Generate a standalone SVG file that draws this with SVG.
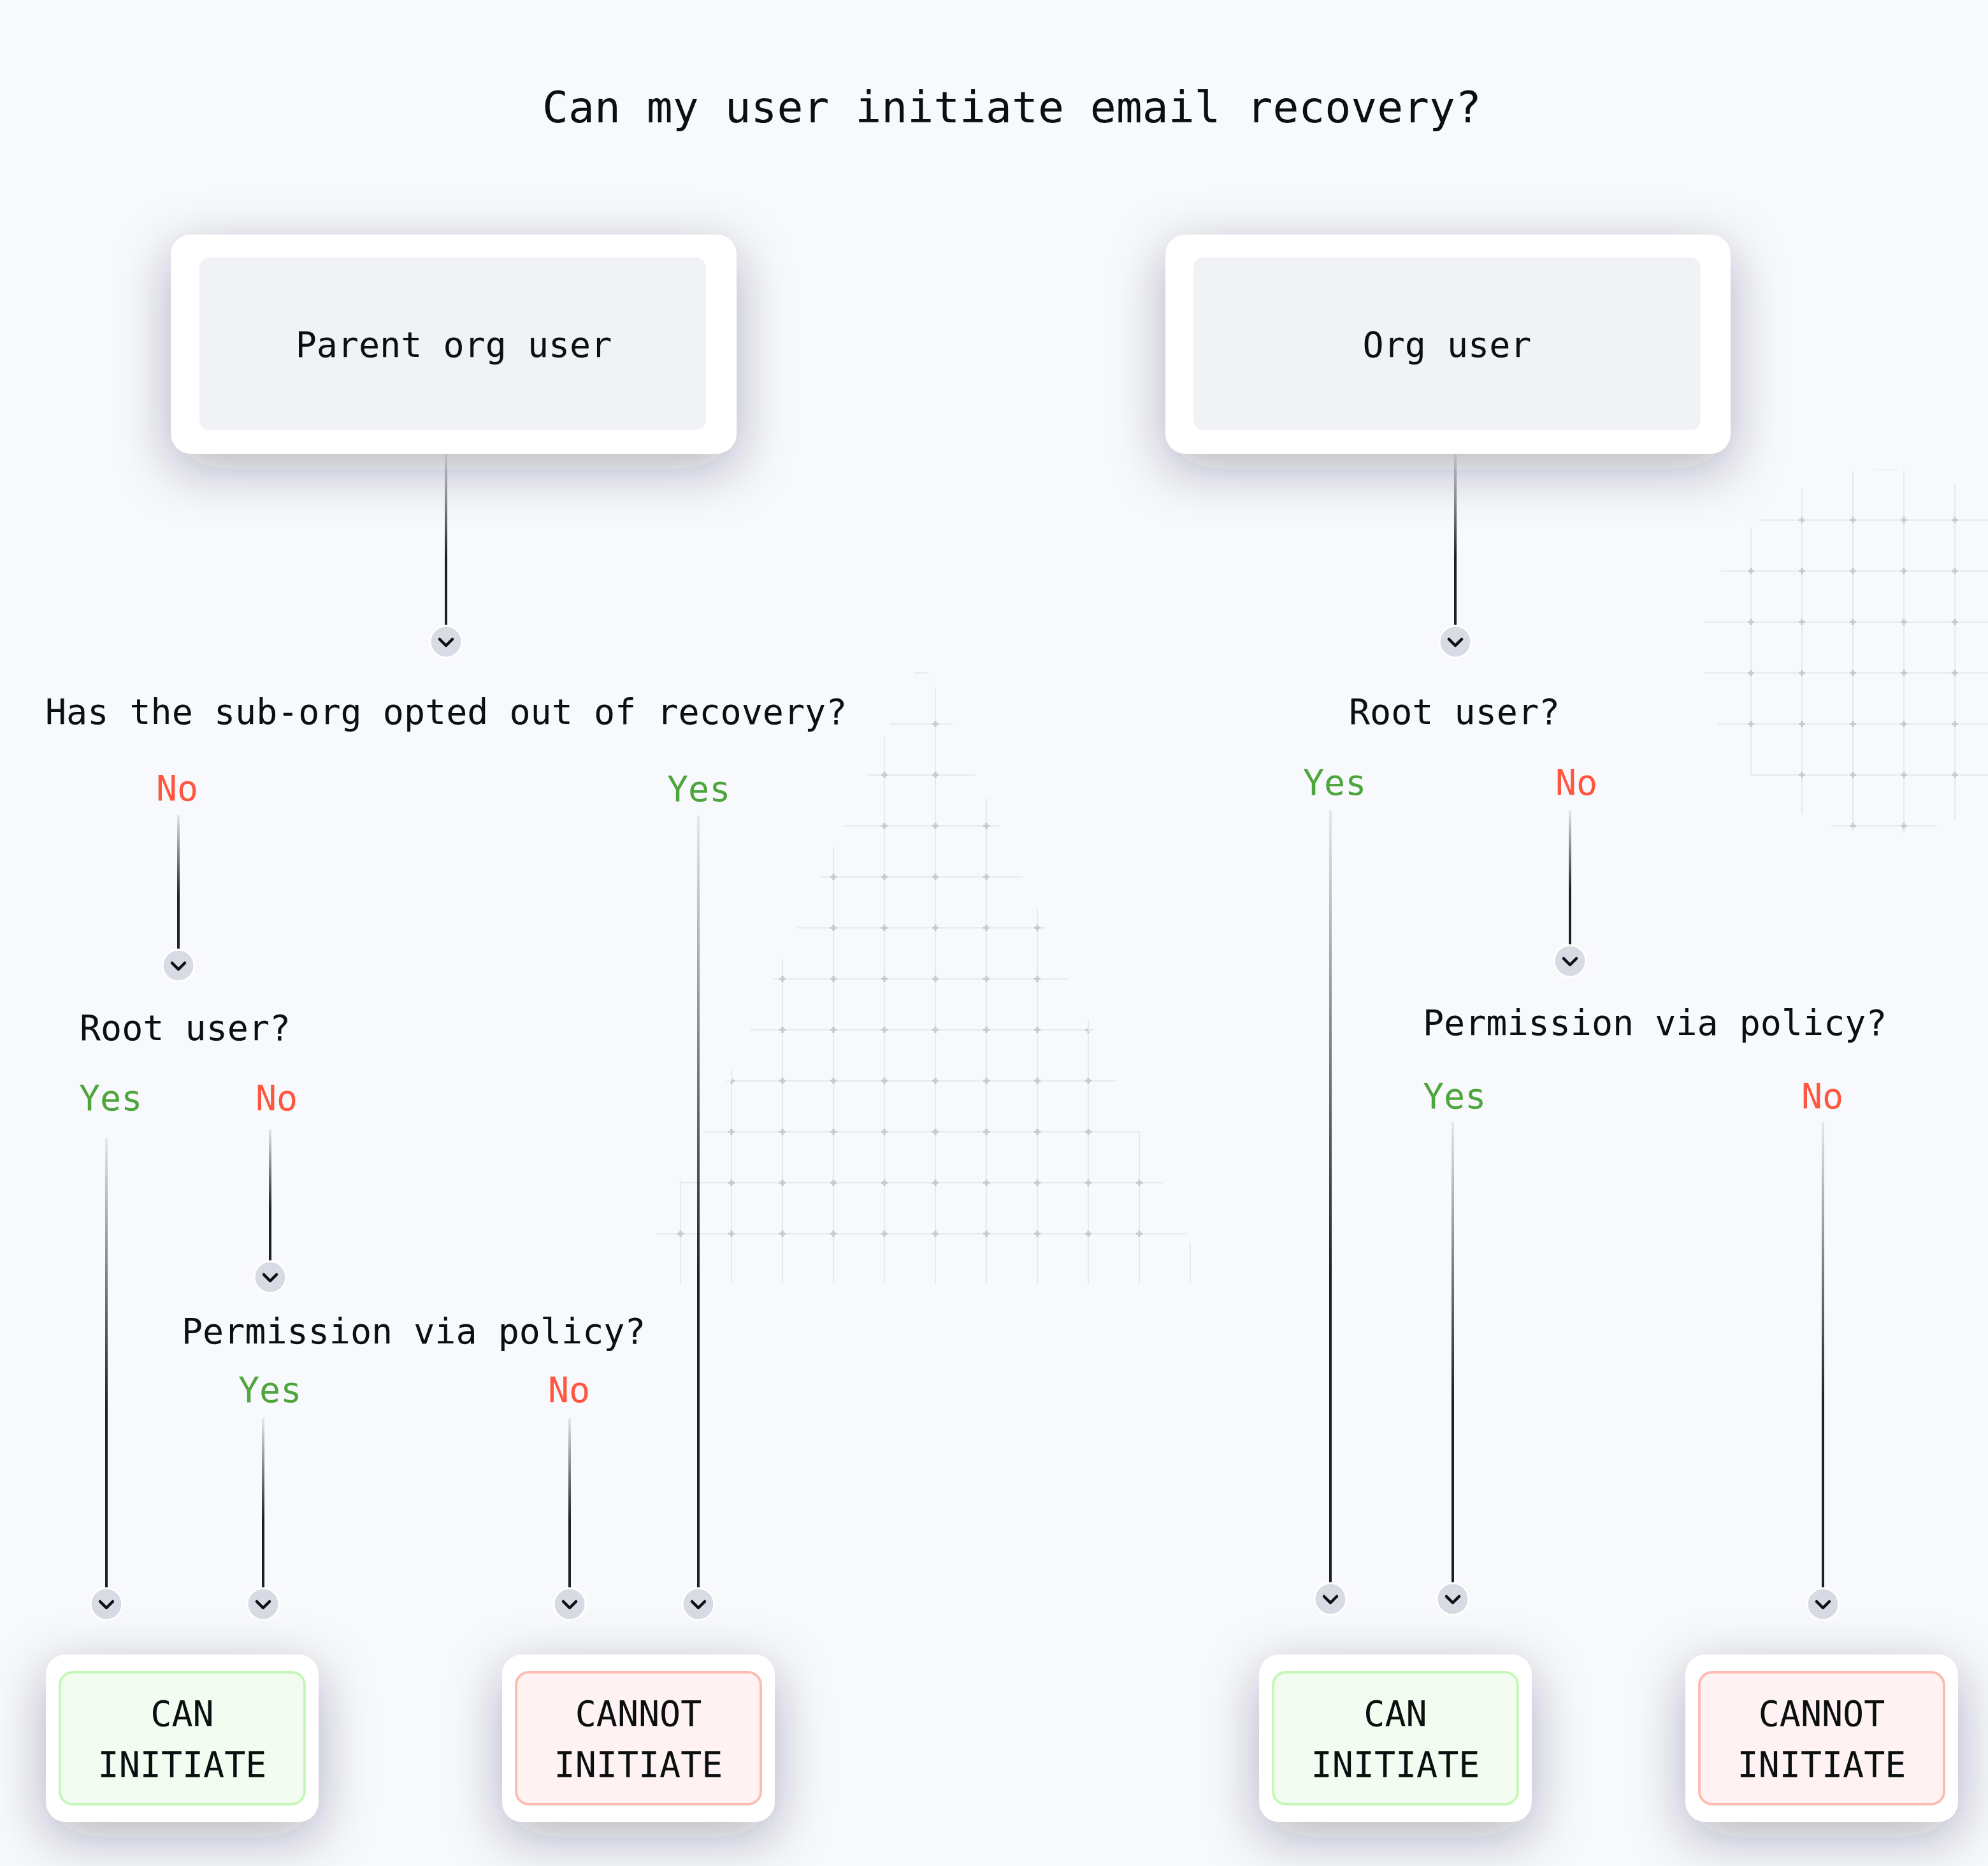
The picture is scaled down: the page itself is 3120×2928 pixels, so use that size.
<svg xmlns="http://www.w3.org/2000/svg" xmlns:xlink="http://www.w3.org/1999/xlink" width="3120" height="2928" viewBox="0 0 3120 2928">
<style>
text{font-family:"DejaVu Sans Mono","Liberation Mono",monospace;font-size:55px;fill:#0b0f10}
.title{font-size:68px}
.yes{fill:#4ea53c}
.no{fill:#ff5640}
.mid{text-anchor:middle}
.outer{fill:#ffffff}
.inner{fill:#f1f2f6}
.okin{fill:#f2fcf1;stroke:#c6f7b6;stroke-width:4}
.badin{fill:#fff2f2;stroke:#fcbcb2;stroke-width:4}
.wire{fill:url(#lg)}
</style>
<defs>
<linearGradient id="lg" x1="0" y1="0" x2="0" y2="1">
<stop offset="0" stop-color="#1d2026" stop-opacity="0.08"/>
<stop offset="0.6" stop-color="#1d2026" stop-opacity="1"/>
<stop offset="1" stop-color="#1d2026" stop-opacity="1"/>
</linearGradient>
<filter id="sh" x="-40%" y="-70%" width="180%" height="250%">
<feDropShadow dx="0" dy="24" stdDeviation="42" flood-color="#1c1f2e" flood-opacity="0.3"/>
</filter>
<pattern id="gl" patternUnits="userSpaceOnUse" x="1028" y="1096" width="80" height="80">
<path d="M0 40H80M40 0V80" stroke="#e3e5ea" stroke-width="1.6" fill="none"/>
</pattern>
<pattern id="gd" patternUnits="userSpaceOnUse" x="1028" y="1096" width="80" height="80">
<path d="M35 40H45M40 35V45" stroke="#c8cacf" stroke-width="3.5" fill="none"/>
</pattern>
<clipPath id="triL"><polygon points="1446,1030 1898,2014 994,2014"/></clipPath>
<clipPath id="triD"><polygon points="1446,1046 1884,2000 1008,2000"/></clipPath>
<clipPath id="cirL"><circle cx="2958" cy="1022" r="286"/></clipPath>
<clipPath id="cirD"><circle cx="2958" cy="1022" r="282"/></clipPath>
<g id="chev">
<circle r="25" fill="#d9dbe4" stroke="#ffffff" stroke-width="3"/>
<path d="M-10 -4L0 6L10 -4" fill="none" stroke="#0c0f12" stroke-width="4.5" stroke-linecap="round" stroke-linejoin="round"/>
</g>
</defs>
<rect width="3120" height="2928" fill="#f8f9fd"/>
<g id="decor">
<rect x="980" y="1000" width="940" height="1020" fill="url(#gl)" clip-path="url(#triL)"/>
<rect x="980" y="1000" width="940" height="1020" fill="url(#gd)" clip-path="url(#triD)"/>
<rect x="2660" y="720" width="460" height="600" fill="url(#gl)" clip-path="url(#cirL)"/>
<rect x="2660" y="720" width="460" height="600" fill="url(#gd)" clip-path="url(#cirD)"/>
</g>
<text class="title mid" x="1588" y="192">Can my user initiate email recovery?</text>
<g id="connectors">
<rect class="wire" x="698" y="712" width="4" height="269"/>
<use href="#chev" x="700" y="1007"/>
<rect class="wire" x="2282" y="712" width="4" height="269"/>
<use href="#chev" x="2284" y="1007"/>
<rect class="wire" x="278" y="1279" width="4" height="210"/>
<use href="#chev" x="280" y="1515"/>
<rect class="wire" x="1094" y="1280" width="4" height="1211"/>
<use href="#chev" x="1096" y="2517"/>
<rect class="wire" x="165" y="1785" width="4" height="706"/>
<use href="#chev" x="167" y="2517"/>
<rect class="wire" x="422" y="1772" width="4" height="206"/>
<use href="#chev" x="424" y="2004"/>
<rect class="wire" x="411" y="2225" width="4" height="266"/>
<use href="#chev" x="413" y="2517"/>
<rect class="wire" x="892" y="2225" width="4" height="266"/>
<use href="#chev" x="894" y="2517"/>
<rect class="wire" x="2086" y="1271" width="4" height="1212"/>
<use href="#chev" x="2088" y="2509"/>
<rect class="wire" x="2462" y="1271" width="4" height="211"/>
<use href="#chev" x="2464" y="1508"/>
<rect class="wire" x="2278" y="1760" width="4" height="723"/>
<use href="#chev" x="2280" y="2509"/>
<rect class="wire" x="2859" y="1760" width="4" height="731"/>
<use href="#chev" x="2861" y="2517"/>
</g>
<g id="node-parent">
<rect class="outer" x="268" y="368" width="888" height="344" rx="32" filter="url(#sh)"/>
<rect class="inner" x="313" y="404" width="795" height="271" rx="16"/>
<text class="mid" x="712" y="560">Parent org user</text>
</g>
<g id="node-org">
<rect class="outer" x="1829" y="368" width="887" height="344" rx="32" filter="url(#sh)"/>
<rect class="inner" x="1873" y="404" width="796" height="271" rx="16"/>
<text class="mid" x="2271" y="560">Org user</text>
</g>
<g id="q-suborg">
<text x="71" y="1136">Has the sub-org opted out of recovery?</text>
<text class="no" x="245" y="1256">No</text>
<text class="yes" x="1047" y="1257">Yes</text>
</g>
<g id="q-root-left">
<text x="125" y="1632">Root user?</text>
<text class="yes" x="124" y="1742">Yes</text>
<text class="no" x="401" y="1742">No</text>
</g>
<g id="q-perm-left">
<text x="285" y="2108">Permission via policy?</text>
<text class="yes" x="374" y="2200">Yes</text>
<text class="no" x="860" y="2200">No</text>
</g>
<g id="q-root-right">
<text x="2117" y="1136">Root user?</text>
<text class="yes" x="2045" y="1247">Yes</text>
<text class="no" x="2441" y="1247">No</text>
</g>
<g id="q-perm-right">
<text x="2233" y="1624">Permission via policy?</text>
<text class="yes" x="2233" y="1739">Yes</text>
<text class="no" x="2827" y="1739">No</text>
</g>
<g id="res-can-left">
<rect class="outer" x="72" y="2596" width="428" height="263" rx="32" filter="url(#sh)"/>
<rect class="okin" x="94" y="2624" width="384" height="207" rx="20"/>
<text class="mid" x="286" y="2708">CAN</text>
<text class="mid" x="286" y="2788">INITIATE</text>
</g>
<g id="res-cannot-left">
<rect class="outer" x="788" y="2596" width="428" height="263" rx="32" filter="url(#sh)"/>
<rect class="badin" x="810" y="2624" width="384" height="207" rx="20"/>
<text class="mid" x="1002" y="2708">CANNOT</text>
<text class="mid" x="1002" y="2788">INITIATE</text>
</g>
<g id="res-can-right">
<rect class="outer" x="1976" y="2596" width="428" height="263" rx="32" filter="url(#sh)"/>
<rect class="okin" x="1998" y="2624" width="384" height="207" rx="20"/>
<text class="mid" x="2190" y="2708">CAN</text>
<text class="mid" x="2190" y="2788">INITIATE</text>
</g>
<g id="res-cannot-right">
<rect class="outer" x="2645" y="2596" width="428" height="263" rx="32" filter="url(#sh)"/>
<rect class="badin" x="2667" y="2624" width="384" height="207" rx="20"/>
<text class="mid" x="2859" y="2708">CANNOT</text>
<text class="mid" x="2859" y="2788">INITIATE</text>
</g>
</svg>
